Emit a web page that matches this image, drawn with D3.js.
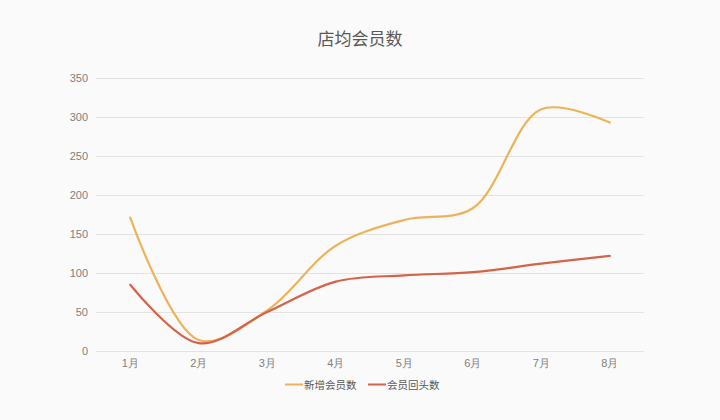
<!DOCTYPE html>
<html><head><meta charset="utf-8">
<script src="https://cdn.jsdelivr.net/npm/d3@7"></script>
<style>body{margin:0;background:#fafafa;}svg{display:block;font-family:"Noto Sans CJK SC","Noto Sans",sans-serif;}</style>
</head><body><div id="chart"></div>
<script>
(function(){
const title = "店均会员数";
const categories = ["1月","2月","3月","4月","5月","6月","7月","8月"];
const seriesNames = ["新增会员数","会员回头数"];
const newMembers = [171, 14, 52, 135, 168, 183, 310, 293];
const returnMembers = [85, 10, 50, 89, 97, 101, 112, 122];
const yTicks = [0,50,100,150,200,250,300,350];
const colors = ["#EDB35C","#D4634A"];

const W = 720, H = 420;
const svg = d3.select("#chart").append("svg").attr("width", W).attr("height", H);
svg.append("rect").attr("width", W).attr("height", H).attr("fill", "#fafafa");

const pl = 96, pr = 644, pt = 78, pb = 351;
const x = d3.scaleBand().domain(categories).range([pl, pr]);
const y = d3.scaleLinear().domain([0, 350]).range([pb, pt]);

svg.append("text").attr("x", W/2).attr("y", 45).attr("text-anchor", "middle")
  .attr("font-size", 17).attr("fill", "#595959").text(title);

const grid = svg.append("g");
grid.selectAll("line").data(yTicks).join("line")
  .attr("x1", pl).attr("x2", pr)
  .attr("y1", d => y(d) + 0.5).attr("y2", d => y(d) + 0.5)
  .attr("stroke", "#e3e3e3").attr("stroke-width", 1);

const yAxis = svg.append("g").attr("transform", `translate(${pl},0)`)
  .call(d3.axisLeft(y).tickValues(yTicks).tickSize(0).tickPadding(8));
yAxis.select(".domain").remove();
yAxis.selectAll("text").attr("font-size", 11).attr("fill", "#7f7f7f").attr("font-family", "Liberation Sans, Arial, sans-serif");

const xAxis = svg.append("g").attr("transform", `translate(0,${pb})`)
  .call(d3.axisBottom(x).tickSize(0).tickPadding(8));
xAxis.select(".domain").remove();
xAxis.selectAll("text").attr("font-size", 11).attr("fill", "#7f7f7f");

const line = d3.line().x((d, i) => x(categories[i]) + x.bandwidth()/2).y(d => y(d))
  .curve(d3.curveCatmullRom.alpha(0.5));
[newMembers, returnMembers].forEach((s, i) => {
  svg.append("path").datum(s).attr("d", line).attr("fill", "none")
    .attr("stroke", colors[i]).attr("stroke-width", 2.2).attr("stroke-linecap", "round");
});

const legend = svg.append("g");
const lx = [285, 368];
seriesNames.forEach((n, i) => {
  legend.append("line").attr("x1", lx[i]).attr("x2", lx[i] + 18).attr("y1", 384.5).attr("y2", 384.5)
    .attr("stroke", colors[i]).attr("stroke-width", 2);
  legend.append("text").attr("x", lx[i] + 19).attr("y", 388.5).attr("font-size", 10.5)
    .attr("fill", "#595959").text(n);
});
})();
</script></body></html>
